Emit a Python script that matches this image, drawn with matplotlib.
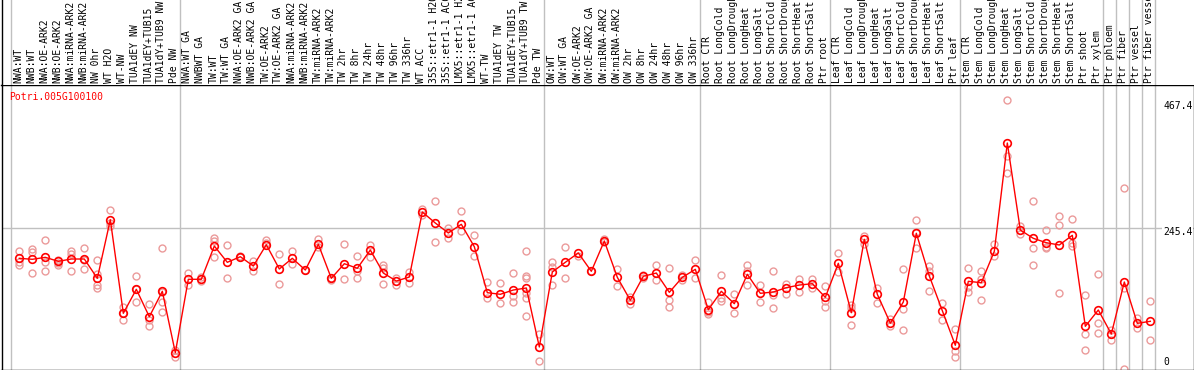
import matplotlib
matplotlib.use("Agg")
import matplotlib.pyplot as plt

gene = "Potri.005G100100"

labels = [
    # NW
    "NWA:WT", "NWB:WT", "NWA:OE-ARK2", "NWB:OE-ARK2", "NWA:miRNA-ARK2", "NWB:miRNA-ARK2",
    "NW 0hr", "WT H2O", "WT-NW", "TUA1dEY NW", "TUA1dEY+TUB15", "TUA1dY+TUB9 NW", "Pde NW",
    # TW
    "NWA:WT GA", "NWBWT GA", "TW:WT", "TW:WT GA", "NWA:OE-ARK2 GA", "NWB:OE-ARK2 GA",
    "TW:OE-ARK2", "TW:OE-ARK2 GA", "NWA:miRNA-ARK2", "NWB:miRNA-ARK2", "TW:miRNA-ARK2",
    "TW:miRNA-ARK2", "TW 2hr", "TW 8hr", "TW 24hr", "TW 48hr", "TW 96hr", "TW 336hr",
    "WT ACC", "35S::etr1-1 H2O", "35S::etr1-1 ACC", "LMX5::etr1-1 H2O", "LMX5::etr1-1 ACC",
    "WT-TW", "TUA1dEY TW", "TUA1dEY+TUB15", "TUA1dY+TUB9 TW", "Pde TW",
    # OW
    "OW:WT", "OW:WT GA", "OW:OE-ARK2", "OW:OE-ARK2 GA", "OW:miRNA-ARK2", "OW:miRNA-ARK2",
    "OW 2hr", "OW 8hr", "OW 24hr", "OW 48hr", "OW 96hr", "OW 336hr",
    # root
    "Root CTR", "Root LongCold", "Root LongDrought", "Root LongHeat", "Root LongSalt",
    "Root ShortCold", "Root ShortDrought", "Root ShortHeat", "Root ShortSalt", "Ptr root",
    # leaf
    "Leaf CTR", "Leaf LongCold", "Leaf LongDrought", "Leaf LongHeat", "Leaf LongSalt",
    "Leaf ShortCold", "Leaf ShortDrought", "Leaf ShortHeat", "Leaf ShortSalt", "Ptr leaf",
    # stem
    "Stem CTR", "Stem LongCold", "Stem LongDrought", "Stem LongHeat", "Stem LongSalt",
    "Stem ShortCold", "Stem ShortDrought", "Stem ShortHeat", "Stem ShortSalt", "Ptr shoot",
    "Ptr xylem",
    "Ptr phloem", "Ptr fiber", "Ptr vessel", "Ptr fiber vessel",
]

# column indices where the grey separators go
group_edges = [0, 13, 41, 53, 63, 73, 84, 85, 86, 87, 88]

means = [
    193.6, 191.9, 195.3, 188.4, 192.4, 192.4, 159.1, 260.2, 98.7, 140.1, 92.8, 136.7, 30.7,
    157.4, 157.4, 214.8, 186.7, 196.4, 180.3, 217.1, 175.2, 193.6, 173.4, 217.8, 159.1,
    184.3, 176.4, 207.9, 168.2, 154.4, 161.3, 273.5, 254.5, 237.3, 252.3, 213.6, 134.3,
    131.5, 138.9, 142.4, 40.6,
    170.0, 186.7, 202.8, 171.2, 223.5, 160.8, 121.1, 162.6, 168.2, 134.9, 160.8, 174.6,
    104.9, 136.7, 115.3, 166.0, 133.2, 135.5, 142.9, 147.5, 149.8, 126.3,
    185.0, 99.7, 226.4, 131.5, 81.6, 118.2, 236.8, 163.1, 103.2, 43.5,
    153.9, 151.5, 205.7, 392.6, 242.4, 228.1, 220.5, 216.6, 233.3, 76.3, 104.4,
    63.0, 152.7, 81.4, 84.9,
]

reps = [
    [206.2, 186.7, 182.1], [209.1, 204.0, 167.7], [225.2, 187.7, 171.7], [190.7, 185.5, 182.1],
    [206.7, 201.0, 171.7], [211.4, 174.6, 190.0], [190.7, 166.5, 147.5, 141.8],
    [276.4, 249.4, 255.0], [109.1, 87.7, 99.0], [162.6, 117.7, 140.0], [114.2, 87.1, 77.3],
    [211.4, 136.0, 118.7, 101.5], [35.4, 23.8],
    [167.7, 147.5], [161.9, 154.4], [228.6, 224.0, 195.3], [216.0, 159.6], [197.6, 195.3],
    [188.9, 171.2], [225.2, 219.5], [200.5, 148.7], [206.2, 183.3], [173.4],
    [226.4, 213.6], [160.1, 156.2], [217.8, 157.4], [197.1, 171.7, 159.1], [217.1, 196.4],
    [181.5, 176.4, 148.7], [159.6, 147.5], [170.5, 151.5], [278.2, 268.3], [292.5, 221.2],
    [245.4, 229.2], [275.2, 240.2], [233.8, 198.1], [152.7, 125.6], [150.5, 116.0],
    [167.7, 129.1, 117.7], [206.2, 163.1, 160.1, 133.2, 124.6, 94.6], [63.0, 16.4],
    [187.2, 178.1, 147.5], [212.6, 160.1], [197.6], [171.2], [227.4, 221.2], [175.2, 145.8],
    [127.4, 114.8], [164.3, 160.1], [181.5, 156.2], [176.4, 121.7, 109.1], [164.8, 156.2],
    [190.2, 159.1],
    [118.7, 100.4, 97.5], [165.3, 124.6, 120.4], [131.5, 99.7], [181.5, 172.2, 147.0],
    [147.5, 118.7], [171.2, 129.8, 108.4], [149.3, 132.0], [157.4, 136.0], [157.4, 142.9],
    [145.8, 120.4, 110.1],
    [202.2, 170.5], [113.0, 107.3, 78.0], [232.1, 217.8], [142.9, 116.0], [88.4, 76.8],
    [175.2, 105.6, 69.9], [259.7, 239.5, 210.9], [180.8, 171.7, 137.2], [117.0, 87.1],
    [71.1, 34.2, 22.8],
    [176.4, 144.6, 136.0], [171.7, 157.4, 121.7], [218.3, 198.1], [467.4, 370.1, 340.3],
    [249.4, 235.6], [292.5, 210.9, 182.1], [242.4, 213.6, 210.9], [266.6, 250.6, 134.3],
    [261.4, 220.5, 215.4], [130.3, 62.5, 34.9], [166.5, 81.4, 64.2],
    [69.9, 52.6], [315.4, 141.8, 2.1], [91.2, 72.8], [119.9, 52.6],
]

ytick_vals = [467.4, 245.4, 0]
ytick_text = ["467.4", "245.4", "0"]
grid_val = 245.4

W, H = 1194, 370
mono = "DejaVu Sans Mono"
fig = plt.figure(figsize=(W / 100, H / 100), dpi=100)

ax = fig.add_axes([1.5 / W, 0.5 / H, 1192 / W, 284.5 / H])
hdr = fig.add_axes([1.5 / W, (H - 85) / H, 1192 / W, 85 / H])

xlim = ((1.5 - 11) / 13, (1193.5 - 11) / 13)
for a in (ax, hdr):
    a.set_xlim(*xlim)
    a.set_xticks([])
    a.set_yticks([])
    for e in group_edges:
        a.axvline(e, color="#c0c0c0", lw=1, zorder=0)

ax.set_ylim(1.73, 492.7)
for s in ax.spines.values():
    s.set_color("black")
    s.set_linewidth(1)

hdr.set_ylim(0, 1)
for k in ("top", "right", "bottom"):
    hdr.spines[k].set_visible(False)
hdr.spines["left"].set_linewidth(1)

# column labels, clipped at the top edge like the original
for i, lab in enumerate(labels):
    hdr.text(i + 0.56, 2 / 85, lab, rotation=90, ha="center", va="bottom",
             fontsize=7, family=mono, color="black")

ax.axhline(grid_val, color="#c0c0c0", lw=1, zorder=0)

xs = [i + 0.64 for i in range(len(means))]
for i, r in enumerate(reps):
    ax.plot([xs[i]] * len(r), r, "o", ms=5, mfc="none", mec="#eb9a9a", mew=1, zorder=2)
ax.plot(xs, means, "-", color="red", lw=1, zorder=3)
ax.plot(xs, means, "o", ms=5.5, mfc="none", mec="red", mew=1.2, zorder=4)

ax.annotate(gene, xy=(0, 1), xycoords="axes fraction", xytext=(7.5, -12),
            textcoords="offset pixels", ha="left", va="center", color="red",
            fontsize=7, family=mono)

offsets = [-6, -3.4, 8.5]
for v, t, dy in zip(ytick_vals, ytick_text, offsets):
    ax.annotate(t, xy=(1, v), xycoords=("axes fraction", "data"), xytext=(-30.5, dy),
                textcoords="offset pixels", ha="left", va="center", fontsize=7,
                family=mono, color="black", annotation_clip=False,
                bbox=dict(facecolor="white", edgecolor="none", pad=0.5))

fig.savefig("out.png", dpi=100)
